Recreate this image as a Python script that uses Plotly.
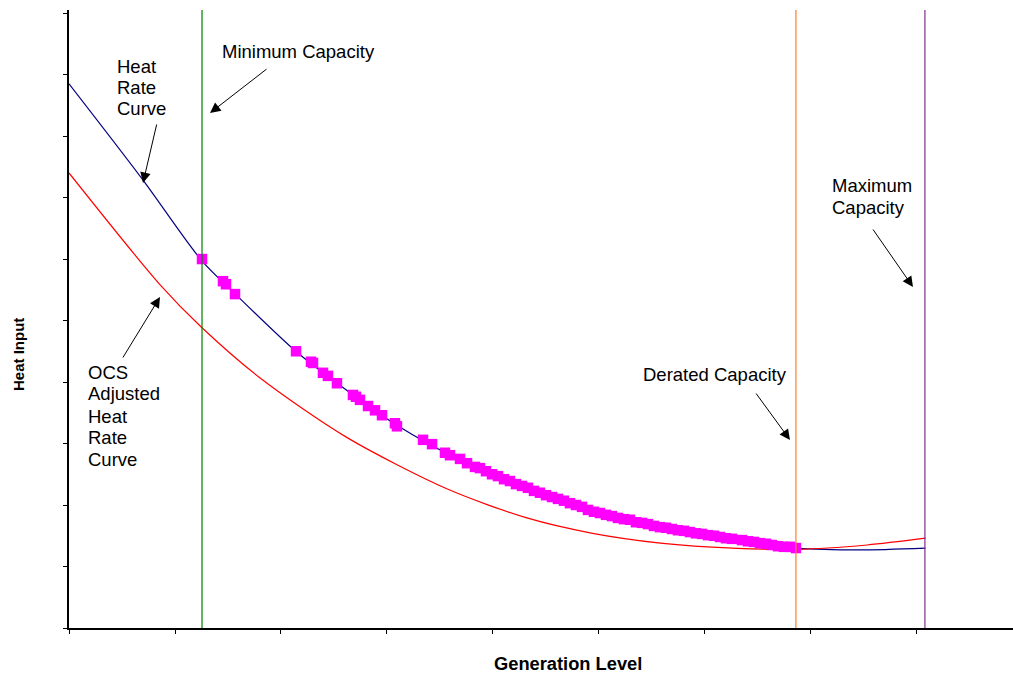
import plotly.graph_objects as go

# ---------------- data ----------------
heat_rate_x = [0.00, 0.70, 1.25, 1.57, 2.14, 2.53, 3.09, 3.69, 4.32, 4.94, 5.58, 6.26, 6.86, 7.46, 8.08]
heat_rate_y = [8.85, 7.28, 5.98, 5.43, 4.50, 3.98, 3.30, 2.73, 2.28, 1.89, 1.64, 1.43, 1.30, 1.27, 1.30]

ocs_x = [0.00, 0.86, 1.25, 1.80, 2.62, 3.57, 4.32, 4.94, 5.58, 6.02, 6.87, 7.53, 8.08]
ocs_y = [7.40, 5.58, 4.89, 4.07, 3.10, 2.26, 1.79, 1.54, 1.38, 1.32, 1.28, 1.35, 1.46]

obs_x = [1.255, 1.453, 1.481, 1.566, 2.142, 2.283, 2.302, 2.396, 2.443, 2.528, 2.679, 2.708,
         2.745, 2.821, 2.887, 2.953, 3.075, 3.094, 3.340, 3.425, 3.547, 3.594, 3.689, 3.755,
         3.830, 3.877, 3.934, 3.991, 4.047, 4.104, 4.160, 4.217, 4.274, 4.330, 4.387, 4.443,
         4.500, 4.557, 4.613, 4.670, 4.726, 4.783, 4.840, 4.896, 4.953, 5.009, 5.066, 5.123,
         5.179, 5.236, 5.292, 5.349, 5.406, 5.462, 5.519, 5.575, 5.632, 5.689, 5.745, 5.802,
         5.858, 5.915, 5.972, 6.028, 6.085, 6.142, 6.198, 6.255, 6.349, 6.406, 6.462, 6.519,
         6.575, 6.632, 6.689, 6.745, 6.802, 6.858]
obs_y = [6.00, 5.64, 5.59, 5.43, 4.50, 4.33, 4.31, 4.15, 4.10, 3.98, 3.79, 3.76,
         3.71, 3.61, 3.54, 3.46, 3.33, 3.28, 3.06, 2.99, 2.85, 2.81, 2.75, 2.68,
         2.62, 2.60, 2.55, 2.50, 2.47, 2.42, 2.39, 2.34, 2.31, 2.28, 2.23, 2.20,
         2.16, 2.13, 2.10, 2.07, 2.03, 2.00, 1.97, 1.92, 1.89, 1.87, 1.84, 1.82,
         1.79, 1.77, 1.76, 1.72, 1.71, 1.69, 1.66, 1.64, 1.63, 1.61, 1.59, 1.58,
         1.56, 1.54, 1.53, 1.51, 1.50, 1.48, 1.46, 1.45, 1.43, 1.41, 1.40, 1.38,
         1.37, 1.35, 1.33, 1.32, 1.32, 1.30]

min_capacity = 1.255
derated_capacity = 6.858
max_capacity = 8.075

x_ticks = [0, 1, 2, 3, 4, 5, 6, 7, 8]
y_ticks = [0, 1, 2, 3, 4, 5, 6, 7, 8, 9, 10]

# ---------------- layout geometry ----------------
W, H = 1013, 673
ML, MR, MT, MB = 69, 0, 10, 45
PW, PH = W - ML - MR, H - MT - MB
X_RANGE = [0, 8.906]
Y_RANGE = [0, 10.05]

FONT = "Liberation Sans, Arial, sans-serif"
LABEL_SIZE = 18.5


def paper(px, py):
    return (px - ML) / PW, (H - MB - py) / PH


fig = go.Figure()

fig.add_trace(go.Scatter(x=heat_rate_x, y=heat_rate_y, mode="lines",
                         line=dict(color="#000080", width=1.2, shape="spline", smoothing=0.8),
                         hoverinfo="skip", showlegend=False))
fig.add_trace(go.Scatter(x=ocs_x, y=ocs_y, mode="lines",
                         line=dict(color="#FF0000", width=1.2, shape="spline", smoothing=0.8),
                         hoverinfo="skip", showlegend=False))
fig.add_trace(go.Scatter(x=obs_x, y=obs_y, mode="markers",
                         marker=dict(symbol="square", size=10.5, color="#FF00FF",
                                     line=dict(width=0)),
                         hoverinfo="skip", showlegend=False, cliponaxis=False))

for xv, col in [(min_capacity, "#008000"), (derated_capacity, "#FF7F27"),
                (max_capacity, "#80308F")]:
    fig.add_shape(type="line", x0=xv, x1=xv, y0=0, y1=1, xref="x", yref="paper",
                  line=dict(color=col, width=1.2))

annotations = []

# text labels, one annotation per line: (text, left px, cap-centre py)
label_lines = [
    ("Heat", 115, 66), ("Rate", 115, 87), ("Curve", 115, 108),
    ("Minimum Capacity", 220, 52),
    ("OCS", 86, 372), ("Adjusted", 86, 394), ("Heat", 86, 416), ("Rate", 86, 437), ("Curve", 86, 459),
    ("Maximum", 830, 186), ("Capacity", 830, 207),
    ("Derated Capacity", 641, 374),
]
for txt, px, py in label_lines:
    xp, yp = paper(px, py)
    annotations.append(dict(text=txt, x=xp, y=yp, xref="paper", yref="paper",
                            xanchor="left", yanchor="middle", align="left",
                            showarrow=False,
                            font=dict(family=FONT, size=LABEL_SIZE, color="black")))

# arrows: (tail px, tail py, tip px, tip py)
arrows = [
    (157, 123, 143, 183),
    (268, 68, 210, 113),
    (122, 359, 160, 297),
    (872, 228, 913, 287),
    (755, 392, 790, 440),
]
for tx, ty, hx, hy in arrows:
    xp, yp = paper(hx, hy)
    annotations.append(dict(text="", x=xp, y=yp, xref="paper", yref="paper",
                            ax=tx - hx, ay=ty - hy, axref="pixel", ayref="pixel",
                            showarrow=True, arrowhead=2, arrowsize=2.1, arrowwidth=1,
                            arrowcolor="black", standoff=0))

# axis titles
xp, yp = paper(568, 663)
annotations.append(dict(text="<b>Generation Level</b>", x=xp, y=yp, xref="paper", yref="paper",
                        xanchor="center", yanchor="middle", showarrow=False,
                        font=dict(family=FONT, size=18.3, color="black")))
xp, yp = paper(18, 355)
annotations.append(dict(text="<b>Heat Input</b>", x=xp, y=yp, xref="paper", yref="paper",
                        xanchor="center", yanchor="middle", showarrow=False, textangle=-90,
                        font=dict(family=FONT, size=15, color="black")))

fig.update_layout(
    width=W, height=H,
    margin=dict(l=ML, r=MR, t=MT, b=MB, pad=0),
    paper_bgcolor="white", plot_bgcolor="white",
    annotations=annotations,
    font=dict(family=FONT, color="black"),
    xaxis=dict(range=X_RANGE, tickvals=x_ticks, showticklabels=False, ticks="outside",
               ticklen=4, tickwidth=1, tickcolor="black", showgrid=False, zeroline=False,
               showline=True, linecolor="black", linewidth=2, fixedrange=True),
    yaxis=dict(range=Y_RANGE, tickvals=y_ticks, showticklabels=False, ticks="outside",
               ticklen=4, tickwidth=1, tickcolor="black", showgrid=False, zeroline=False,
               showline=True, linecolor="black", linewidth=2, fixedrange=True),
)

fig.write_html("out.html", config={"displayModeBar": False},
               post_script="document.body.style.margin='0';document.body.style.padding='0';")
